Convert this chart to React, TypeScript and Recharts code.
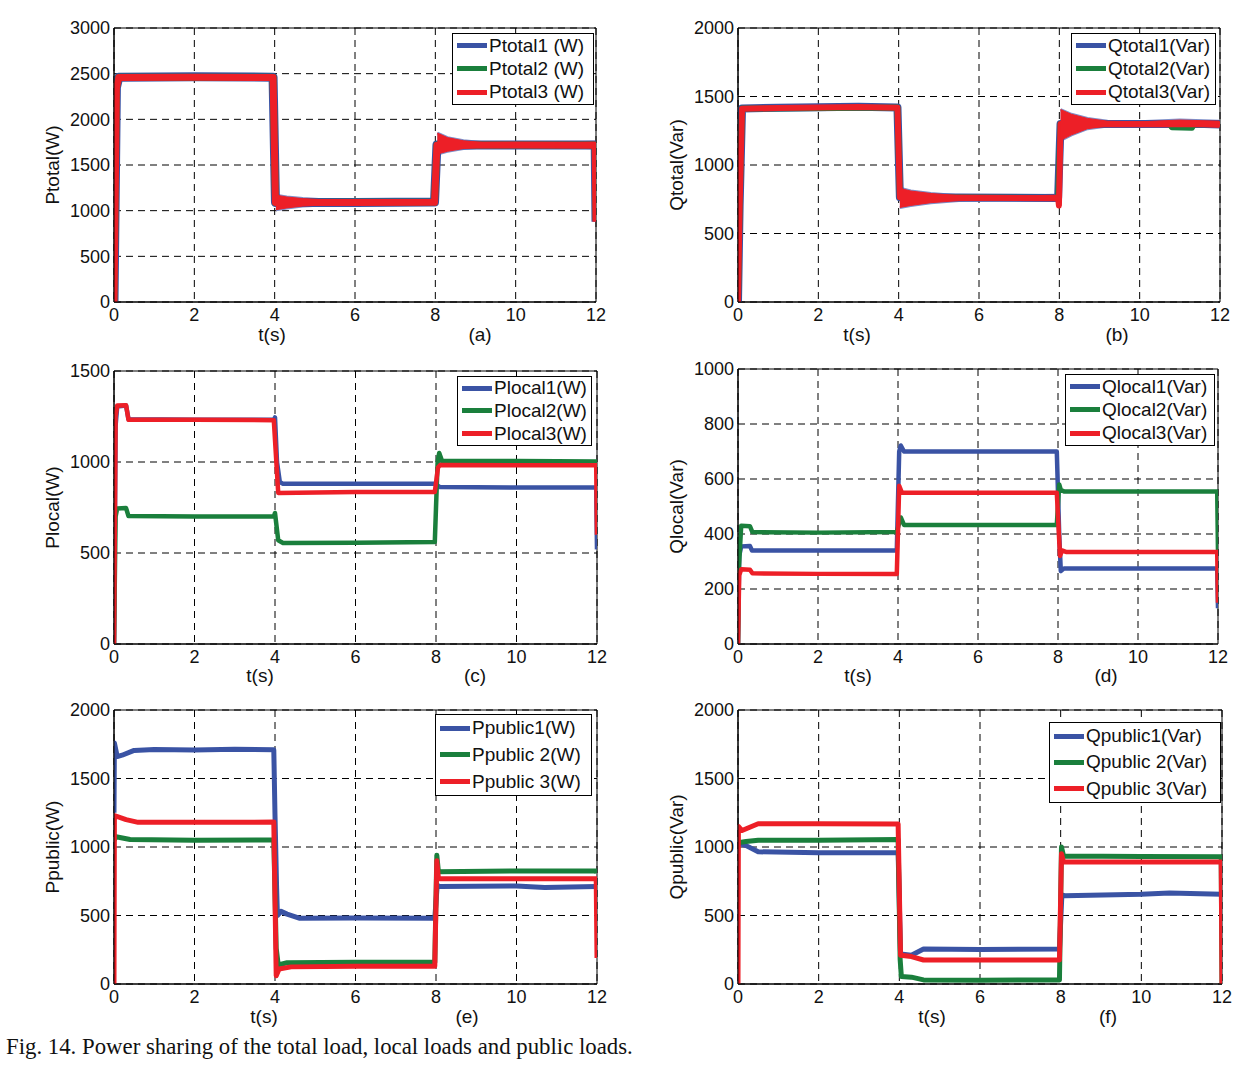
import React from 'react';
import { ComposedChart, Line, Area, XAxis, YAxis, CartesianGrid, Legend, ReferenceArea } from 'recharts';

const FONT = 'Arial, "Liberation Sans", Helvetica, sans-serif';
const BLUE = '#3a53a4';
const GREEN = '#1a7f3c';
const RED = '#ed1f27';

const T_TICKS = [0, 2, 4, 6, 8, 10, 12];

// (a) total active power, [t(s), W]
const PTOTAL1 = [[0, 0], [0.06, 2350], [0.12, 2462], [2, 2466], [3.96, 2462], [4.02, 1090], [6, 1090], [7.98, 1095], [8.04, 1720], [10, 1720], [11.98, 1720], [12, 880]];
const PTOTAL2 = [[0, 0], [0.06, 2350], [0.12, 2460], [3.96, 2460], [4.02, 1090], [7.98, 1095], [8.04, 1720], [11.98, 1720], [12, 900]];
const PTOTAL3 = [[0, 0], [0.06, 2340], [0.12, 2458], [2, 2462], [3.96, 2458], [4.02, 1090], [6, 1090], [7.98, 1092], [8.04, 1715], [10, 1718], [11.98, 1715], [12, 880]];
// oscillation envelope after the load steps, [t, low, high]
const PTOTAL_RIPPLE_4 = [[4.03, 1010, 1170], [4.3, 1030, 1150], [4.7, 1050, 1132], [5.2, 1062, 1120], [6, 1072, 1112], [7, 1070, 1110], [7.97, 1072, 1115]];
const PTOTAL_RIPPLE_8 = [[8.05, 1620, 1850], [8.3, 1650, 1800], [8.7, 1680, 1765], [9.2, 1698, 1745], [10, 1705, 1735], [11, 1700, 1742], [11.98, 1690, 1750]];

// (b) total reactive power, [t, Var]
const QTOTAL1 = [[0, 0], [0.04, 700], [0.1, 1412], [1, 1418], [3, 1425], [3.97, 1420], [4.03, 765], [7.97, 760], [8.03, 1300], [11.98, 1300], [12, 1280]];
const QTOTAL2 = [[0, 0], [0.04, 700], [0.1, 1412], [3.97, 1420], [4.03, 765], [7.97, 760], [8.03, 1300], [10.75, 1300], [10.8, 1276], [11.3, 1272], [11.35, 1298], [11.98, 1300], [12, 1280]];
const QTOTAL3 = [[0, 0], [0.04, 690], [0.1, 1410], [1, 1416], [3, 1424], [3.97, 1418], [4.03, 765], [7.97, 758], [7.99, 705], [8.03, 1300], [11.98, 1298], [12, 1280]];
const QTOTAL_RIPPLE_4 = [[4.03, 690, 830], [4.3, 705, 810], [4.8, 725, 792], [5.5, 740, 776], [6.5, 745, 770], [7.97, 742, 780]];
const QTOTAL_RIPPLE_8 = [[8.03, 1180, 1405], [8.3, 1220, 1370], [8.7, 1265, 1340], [9.2, 1284, 1320], [10, 1290, 1315], [11, 1290, 1328], [11.98, 1275, 1320]];

// (c) local active power, [t, W]
const PLOCAL1 = [[0, 0], [0.04, 1200], [0.08, 1305], [0.3, 1310], [0.36, 1235], [2, 1232], [3.97, 1232], [4, 1245], [4.05, 1000], [4.12, 890], [4.2, 880], [6, 880], [7.97, 880], [8.03, 872], [8.1, 862], [10, 860], [11.98, 860], [12, 520]];
const PLOCAL2 = [[0, 0], [0.04, 700], [0.08, 745], [0.3, 747], [0.36, 703], [2, 700], [3.97, 700], [4, 720], [4.08, 570], [4.2, 555], [6, 557], [7.97, 560], [8.04, 1000], [8.08, 1050], [8.15, 1005], [10, 1005], [11.98, 1003], [12, 990]];
const PLOCAL3 = [[0, 0], [0.04, 1250], [0.08, 1310], [0.3, 1312], [0.36, 1232], [2, 1232], [3.97, 1230], [4.08, 830], [6, 835], [7.97, 835], [8.05, 970], [8.1, 983], [10, 982], [11.98, 982], [12, 600]];

// (d) local reactive power, [t, Var]
const QLOCAL1 = [[0, 0], [0.03, 320], [0.08, 355], [0.3, 356], [0.35, 340], [2, 340], [3.97, 340], [4.03, 700], [4.07, 722], [4.15, 700], [6, 700], [7.97, 700], [8.03, 400], [8.07, 265], [8.15, 275], [10, 275], [11.98, 275], [12, 130]];
const QLOCAL2 = [[0, 0], [0.02, 270], [0.08, 430], [0.3, 428], [0.36, 407], [2, 405], [3.97, 407], [4.03, 440], [4.07, 460], [4.15, 433], [6, 433], [7.97, 433], [8.03, 580], [8.07, 560], [8.15, 555], [10, 555], [11.98, 555], [12, 330]];
const QLOCAL3 = [[0, 0], [0.03, 250], [0.08, 272], [0.3, 270], [0.36, 257], [2, 255], [3.97, 255], [4.03, 575], [4.1, 550], [6, 550], [7.97, 550], [8.05, 320], [8.1, 340], [8.2, 335], [10, 335], [11.98, 335], [12, 150]];

// (e) public active power, [t, W]
const PPUBLIC1 = [[0, 1250], [0.01, 1760], [0.08, 1660], [0.2, 1670], [0.5, 1705], [1, 1712], [2, 1708], [3, 1714], [3.97, 1710], [4, 1230], [4.04, 700], [4.06, 500], [4.15, 530], [4.3, 510], [4.6, 480], [6, 482], [7.97, 480], [8.03, 720], [8.1, 712], [10, 715], [10.7, 705], [11.98, 712], [12, 700]];
const PPUBLIC2 = [[0, 1050], [0.05, 1075], [0.4, 1055], [2, 1050], [3.97, 1052], [4.03, 260], [4.08, 140], [4.3, 155], [6, 158], [7.97, 158], [8.02, 940], [8.06, 820], [10, 825], [11.98, 825], [12, 810]];
const PPUBLIC3 = [[0, 0], [0.01, 1230], [0.3, 1200], [0.6, 1180], [2, 1180], [3.97, 1182], [4.03, 60], [4.1, 110], [4.4, 125], [6, 130], [7.97, 130], [8.02, 900], [8.06, 770], [10, 768], [11.98, 768], [12, 190]];

// (f) public reactive power, [t, Var]
const QPUBLIC1 = [[0, 1030], [0.2, 1010], [0.5, 965], [2, 958], [3.97, 958], [4.03, 220], [4.3, 210], [4.6, 255], [6, 252], [7.97, 255], [8.03, 650], [8.1, 645], [10, 655], [10.7, 665], [11.98, 655], [12, 650]];
const QPUBLIC2 = [[0, 1030], [0.2, 1040], [0.5, 1050], [2, 1050], [3.97, 1055], [4.02, 180], [4.05, 55], [4.3, 50], [4.6, 30], [6, 28], [7.97, 30], [8.02, 1000], [8.07, 935], [10, 930], [11.98, 928], [12, 0]];
const QPUBLIC3 = [[0, 0], [0.01, 1150], [0.1, 1120], [0.5, 1170], [2, 1170], [3.97, 1168], [4.03, 210], [4.3, 200], [4.6, 175], [6, 175], [7.97, 175], [8.02, 950], [8.07, 890], [10, 890], [11.98, 890], [12, 0]];

const pts = (arr: number[][]) => arr.map(([t, v]) => ({ t, v }));
const band = (arr: number[][]) => arr.map(([t, lo, hi]) => ({ t, r: [lo, hi] }));

type Series = { name: string; color: string; data: number[][]; width: number };
type Rect = { x: number; y: number; w: number; h: number };
type Panel = {
  plot: Rect; yMax: number; yTicks: number[]; yLabel: string; legend: Rect;
  tx: number; lx: number; cy: number; tag: string; series: Series[]; ripple?: number[][][];
};

const PANELS: Panel[] = [
  {
    plot: { x: 114, y: 28, w: 482, h: 274 }, yMax: 3000, yTicks: [0, 500, 1000, 1500, 2000, 2500, 3000], yLabel: 'Ptotal(W)',
    legend: { x: 452, y: 33, w: 142, h: 73 }, tx: 272, lx: 480, cy: 335, tag: '(a)',
    series: [
      { name: 'Ptotal1 (W)', color: BLUE, data: PTOTAL1, width: 9 },
      { name: 'Ptotal2 (W)', color: GREEN, data: PTOTAL2, width: 7 },
      { name: 'Ptotal3 (W)', color: RED, data: PTOTAL3, width: 7 },
    ],
    ripple: [PTOTAL_RIPPLE_4, PTOTAL_RIPPLE_8],
  },
  {
    plot: { x: 738, y: 28, w: 482, h: 274 }, yMax: 2000, yTicks: [0, 500, 1000, 1500, 2000], yLabel: 'Qtotal(Var)',
    legend: { x: 1071, y: 33, w: 145, h: 73 }, tx: 857, lx: 1117, cy: 335, tag: '(b)',
    series: [
      { name: 'Qtotal1(Var)', color: BLUE, data: QTOTAL1, width: 8 },
      { name: 'Qtotal2(Var)', color: GREEN, data: QTOTAL2, width: 6 },
      { name: 'Qtotal3(Var)', color: RED, data: QTOTAL3, width: 6 },
    ],
    ripple: [QTOTAL_RIPPLE_4, QTOTAL_RIPPLE_8],
  },
  {
    plot: { x: 114, y: 371, w: 483, h: 273 }, yMax: 1500, yTicks: [0, 500, 1000, 1500], yLabel: 'Plocal(W)',
    legend: { x: 457, y: 376, w: 135, h: 71 }, tx: 260, lx: 475, cy: 676, tag: '(c)',
    series: [
      { name: 'Plocal1(W)', color: BLUE, data: PLOCAL1, width: 4.5 },
      { name: 'Plocal2(W)', color: GREEN, data: PLOCAL2, width: 4.5 },
      { name: 'Plocal3(W)', color: RED, data: PLOCAL3, width: 4.5 },
    ],
  },
  {
    plot: { x: 738, y: 369, w: 480, h: 275 }, yMax: 1000, yTicks: [0, 200, 400, 600, 800, 1000], yLabel: 'Qlocal(Var)',
    legend: { x: 1065, y: 374, w: 150, h: 73 }, tx: 858, lx: 1106, cy: 676, tag: '(d)',
    series: [
      { name: 'Qlocal1(Var)', color: BLUE, data: QLOCAL1, width: 4.5 },
      { name: 'Qlocal2(Var)', color: GREEN, data: QLOCAL2, width: 4.5 },
      { name: 'Qlocal3(Var)', color: RED, data: QLOCAL3, width: 4.5 },
    ],
  },
  {
    plot: { x: 114, y: 710, w: 483, h: 274 }, yMax: 2000, yTicks: [0, 500, 1000, 1500, 2000], yLabel: 'Ppublic(W)',
    legend: { x: 435, y: 714, w: 157, h: 83 }, tx: 264, lx: 467, cy: 1017, tag: '(e)',
    series: [
      { name: 'Ppublic1(W)', color: BLUE, data: PPUBLIC1, width: 5 },
      { name: 'Ppublic 2(W)', color: GREEN, data: PPUBLIC2, width: 5 },
      { name: 'Ppublic 3(W)', color: RED, data: PPUBLIC3, width: 5 },
    ],
  },
  {
    plot: { x: 738, y: 710, w: 484, h: 274 }, yMax: 2000, yTicks: [0, 500, 1000, 1500, 2000], yLabel: 'Qpublic(Var)',
    legend: { x: 1049, y: 722, w: 172, h: 82 }, tx: 932, lx: 1108, cy: 1017, tag: '(f)',
    series: [
      { name: 'Qpublic1(Var)', color: BLUE, data: QPUBLIC1, width: 5 },
      { name: 'Qpublic 2(Var)', color: GREEN, data: QPUBLIC2, width: 5 },
      { name: 'Qpublic 3(Var)', color: RED, data: QPUBLIC3, width: 5 },
    ],
  },
];

const LEFT = 84; // y-axis room
const TOP = 10;
const RIGHT = 20;
const BOTTOM = 40;

const LegendBox = ({ items, rowH, w }: { items: Series[]; rowH: number; w: number }) => (
  <div style={{ border: '1px solid #000', background: '#fff', width: w, boxSizing: 'border-box', padding: '0 4px', fontFamily: FONT, fontSize: 19, color: '#111' }}>
    {items.map((s) => (
      <div key={s.name} style={{ display: 'flex', alignItems: 'center', height: rowH - 1, whiteSpace: 'nowrap' }}>
        <span style={{ display: 'inline-block', width: 30, height: 5, background: s.color, marginRight: 2, flex: 'none' }} />
        <span>{s.name}</span>
      </div>
    ))}
  </div>
);

const Caption = ({ x, y, text }: { x: number; y: number; text: string }) => (
  <div style={{ position: 'absolute', left: x, top: y, transform: 'translate(-50%, -50%)', fontFamily: FONT, fontSize: 19, color: '#111', whiteSpace: 'nowrap' }}>{text}</div>
);

const PanelChart = ({ p }: { p: Panel }) => {
  const cw = p.plot.w + LEFT + RIGHT;
  const ch = p.plot.h + TOP + BOTTOM;
  const left = p.plot.x - LEFT;
  const top = p.plot.y - TOP;
  const [blue, , red] = p.series;
  return (
    <>
      <div style={{ position: 'absolute', left, top, width: cw, height: ch }}>
        <ComposedChart width={cw} height={ch} margin={{ top: TOP, right: RIGHT, bottom: 0, left: 0 }}>
          <CartesianGrid stroke="#000" strokeDasharray="7 5" strokeWidth={1} />
          <XAxis type="number" dataKey="t" domain={[0, 12]} ticks={T_TICKS} allowDataOverflow height={BOTTOM}
            tickLine={false} tickSize={0} tickMargin={6} axisLine={{ stroke: '#000' }}
            tick={{ fill: '#111', fontSize: 18, fontFamily: FONT }} interval={0} />
          <YAxis type="number" domain={[0, p.yMax]} ticks={p.yTicks} allowDataOverflow width={LEFT}
            tickLine={false} tickSize={0} tickMargin={4} axisLine={{ stroke: '#000' }}
            tick={{ fill: '#111', fontSize: 18, fontFamily: FONT }} interval={0}
            label={{ value: p.yLabel, angle: -90, position: 'insideLeft', offset: LEFT - 62, style: { textAnchor: 'middle', fill: '#111', fontSize: 19, fontFamily: FONT } }} />
          <ReferenceArea x1={0} x2={12} y1={0} y2={p.yMax} fill="none" fillOpacity={0} stroke="#000" strokeWidth={1} ifOverflow="extendDomain" />
          {p.ripple && p.ripple.map((r, i) => (
            <Area key={'b' + i} data={band(r)} dataKey="r" type="linear" fill={blue.color} fillOpacity={0.6} stroke="#7f8fc8" strokeWidth={3}
              isAnimationActive={false} legendType="none" dot={false} activeDot={false} zIndex={300} />
          ))}
          {p.series.map((s) => (
            <Line key={s.name} data={pts(s.data)} dataKey="v" name={s.name} type="linear" stroke={s.color} strokeWidth={s.width}
              dot={false} activeDot={false} isAnimationActive={false} strokeLinejoin="round" zIndex={400} />
          ))}
          {p.ripple && p.ripple.map((r, i) => (
            <Area key={'r' + i} data={band(r)} dataKey="r" type="linear" fill={red.color} fillOpacity={1} stroke={red.color} strokeWidth={1}
              isAnimationActive={false} legendType="none" dot={false} activeDot={false} zIndex={500} />
          ))}
          <Legend layout="vertical" align="center" verticalAlign="middle"
            wrapperStyle={{ left: p.legend.x - left, top: p.legend.y - top, width: p.legend.w, height: p.legend.h }}
            content={() => <LegendBox items={p.series} rowH={p.legend.h / 3} w={p.legend.w} />} />
        </ComposedChart>
      </div>
      <Caption x={p.tx} y={p.cy} text="t(s)" />
      <Caption x={p.lx} y={p.cy} text={p.tag} />
    </>
  );
};

export default function App() {
  return (
    <div style={{ position: 'absolute', left: 0, top: 0, width: 1248, height: 1071, background: '#fff', overflow: 'hidden' }}>
      {PANELS.map((p) => <PanelChart key={p.tag} p={p} />)}
      <div style={{ position: 'absolute', left: 6, top: 1034, fontFamily: '"Liberation Serif", "Times New Roman", serif', fontSize: 22.8, color: '#111', whiteSpace: 'nowrap' }}>
        Fig. 14. Power sharing of the total load, local loads and public loads.
      </div>
    </div>
  );
}
